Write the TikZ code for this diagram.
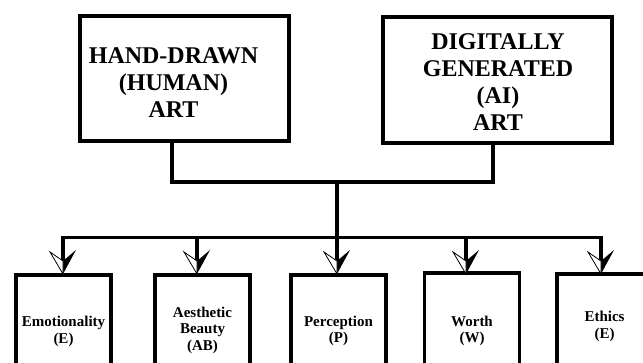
\documentclass[tikz,border=0pt]{standalone}
\usepackage{fontspec}
\setmainfont{Liberation Serif}
\begin{document}
\begin{tikzpicture}[x=1pt,y=-1pt,
  topbox/.style={draw, line width=3.6pt, inner sep=0pt},
  toptext/.style={font=\bfseries\fontsize{24}{27}\selectfont, align=center, inner sep=0pt},
  subbox/.style={draw, line width=3.6pt, inner sep=0pt, minimum width=95, align=center,
                 font=\bfseries\fontsize{15}{16.5}\selectfont},
  conn/.style={line width=3.2pt, line join=miter, line cap=rect},
  headblack/.style={fill=black},
  headwhite/.style={draw=black, line width=0.8pt, fill=white, line join=miter}]
\useasboundingbox (0,0) rectangle (643,363);
\clip (0,0) rectangle (643,363);

% top boxes
\node[topbox, minimum width=209, minimum height=125] (lbox) at (184.5,78.5) {};
\node[toptext] (ltext) at (173.5,83) {HAND-DRAWN\\(HUMAN)\\ART};
\node[topbox, minimum width=229, minimum height=126] (rbox) at (497.5,80) {};
\node[toptext] (rtext) at (498,82.5) {DIGITALLY\\GENERATED\\(AI)\\ART};

% bottom boxes
\node[subbox, minimum height=113] (e1) at (63.5,331.5) {Emotionality\\(E)};
\node[subbox, minimum height=110] (e2) at (202.5,330) {Aesthetic\\Beauty\\(AB)};
\node[subbox, minimum height=112] (e3) at (338.5,331) {Perception\\(P)};
\node[subbox, minimum height=116] (e4) at (472,331) {Worth\\(W)};
\node[subbox, minimum height=105] (e5) at (604.5,326.5) {Ethics\\(E)};

% junction coordinates
\coordinate (hl) at (172,182);
\coordinate (hr) at (493,182);
\coordinate (hc) at (337,182);
\coordinate (bus) at (337,237.5);
\foreach \i/\x in {1/63,2/197,3/337,4/466,5/601}{
  \coordinate (c\i) at (\x,237.5);
  \coordinate (tip\i) at (\x,274);
  \coordinate (notch\i) at (\x,261);
}

% connectors
\draw[conn] (lbox.south -| hl) -- (hl) -- (hr) -- (rbox.south -| hr);
\draw[conn] (hc) -- (bus);
\draw[conn] (notch1) -- (c1) -- (c5) -- (notch5);
\foreach \i in {2,3,4}{
  \draw[conn] (c\i) -- (notch\i);
}

% half-filled arrowheads
\foreach \i in {1,...,5}{
  \fill[headblack] (tip\i) -- ++(13,-24) -- (notch\i) -- cycle;
  \draw[headwhite] (tip\i) -- ++(-13,-22) -- (notch\i) -- cycle;
}
\end{tikzpicture}
\end{document}
